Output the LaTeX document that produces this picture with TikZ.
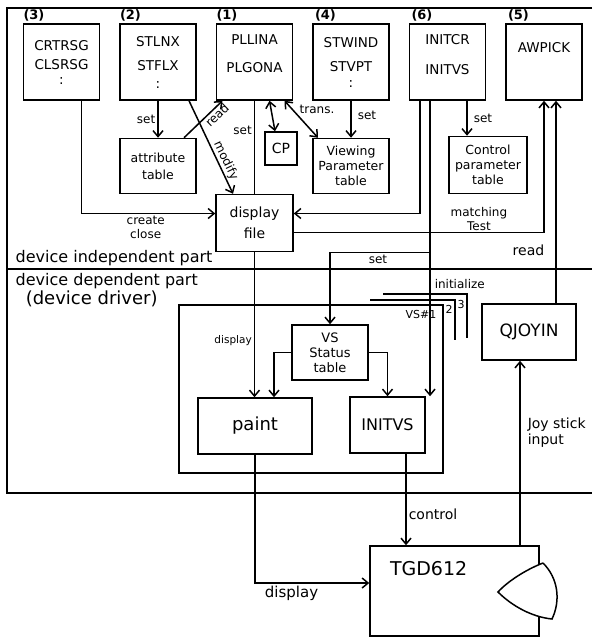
\documentclass[tikz,border=0pt]{standalone}
\usepackage{fontspec}
\setmainfont{DejaVu Sans}
\usepackage{tikz}
\usetikzlibrary{positioning,arrows.meta}

\begin{document}
\begin{tikzpicture}[
  x=1pt, y=-1pt,
  node distance=37pt and 19pt,
  line width=1.5pt,
  fnbox/.style={draw, rectangle, minimum width=76pt, minimum height=76pt, align=center, inner sep=0pt, font=\fontsize{13.5}{16}\selectfont},
  tblbox/.style={draw, rectangle, minimum width=76pt, minimum height=55pt, align=center, inner sep=0pt, font=\fontsize{12.5}{15}\selectfont},
  drvbox/.style={draw, rectangle, minimum height=56pt, align=center, font=\fontsize{16}{19}\selectfont},
  num/.style={inner sep=0pt, font=\fontsize{13}{15}\selectfont\bfseries},
  lbl/.style={inner sep=2pt, align=center, font=\fontsize{12}{14}\selectfont},
  sect/.style={inner sep=0pt, anchor=west, font=\fontsize{16}{18}\selectfont},
  arr/.style={-{Straight Barb[length=6pt,width=10pt]}},
  darr/.style={{Straight Barb[length=6pt,width=10pt]}-{Straight Barb[length=6pt,width=10pt]}}
]
  \useasboundingbox (0,0) rectangle (592,637);

  % Frame
  \draw (592,8) -- (7,8) -- (7,493) -- (592,493);
  \draw (7,269) -- (592,269);
  \node[sect] (indep) at (15,258) {device independent part};
  \node[sect] (dep) at (15,281) {device dependent part};
  \node[sect, font=\fontsize{18}{20}\selectfont] (drvname) at (25,299) {(device driver)};

  % Nodes
  \node[fnbox] (crtrsg) at (61.5,62) {CRTRSG\\[3pt]CLSRSG\\[-1pt]:};
  \node[fnbox, right=of crtrsg] (stlnx) {STLNX\\[8pt]STFLX\\[2pt]:};
  \node[fnbox, right=of stlnx] (pllina) {PLLINA\\[12pt]PLGONA\\[0pt]\mbox{}};
  \node[fnbox, right=of pllina] (stwind) {STWIND\\[8pt]STVPT\\[0pt]:};
  \node[fnbox, right=of stwind] (initcr) {INITCR\\[14pt]INITVS\\[0pt]\mbox{}};
  \node[fnbox, right=of initcr, text depth=30pt] (awpick) {AWPICK};

  \node[num, above right=1pt and 0pt of crtrsg.north west] (n3) {(3)};
  \node[num, above right=1pt and 0pt of stlnx.north west] (n2) {(2)};
  \node[num, above right=1pt and 0pt of pllina.north west] (n1) {(1)};
  \node[num, above right=1pt and 2pt of stwind.north west] (n4) {(4)};
  \node[num, above right=1pt and 2pt of initcr.north west] (n6) {(6)};
  \node[num, above right=1pt and 2pt of awpick.north west] (n5) {(5)};

  \node[tblbox, below=of stlnx] (attr) {attribute\\[2pt]table};
  \node[tblbox, minimum width=32pt, minimum height=33pt, font=\fontsize{14}{16}\selectfont] (cp) at (281,148.5) {CP};
  \node[tblbox, below=of stwind] (viewing) {Viewing\\Parameter\\table};
  \node[tblbox, below=35pt of initcr, xshift=40.5pt, minimum width=78pt, minimum height=57pt] (ctrl) {Control\\parameter\\table};
  \node[tblbox, below=93pt of pllina, minimum width=77pt, minimum height=57pt, font=\fontsize{14}{17}\selectfont] (dfile) {display\\[4pt]file};

  % device driver
  \draw (383,294) -- (467,294) -- (467,338);
  \draw (370,300) -- (455,300) -- (455,340);
  \node[draw, minimum width=264pt, minimum height=168pt] (driver) at (311,389) {};
  \node[lbl, font=\fontsize{11}{12}\selectfont] (vs1) at (421,314) {VS\#1};
  \node[lbl, font=\fontsize{11}{12}\selectfont] (vs2) at (449,309) {2};
  \node[lbl, font=\fontsize{11}{12}\selectfont] (vs3) at (461,304) {3};

  \node[tblbox, font=\fontsize{13}{15}\selectfont] (vstab) at (330,352.5) {VS\\Status\\table};
  \node[drvbox, minimum width=114pt, font=\fontsize{18}{20}\selectfont] (paint) at (255,426) {paint};
  \node[drvbox, minimum width=75pt] (initvs) at (387.5,425) {INITVS};
  \node[drvbox, minimum width=94pt, font=\fontsize{17}{19}\selectfont] (qjoyin) at (529,332) {QJOYIN};

  \node[draw, minimum width=169pt, minimum height=90pt] (tgd) at (454.5,591) {};
  \node[inner sep=0pt, font=\fontsize{19}{21}\selectfont, below right=15pt and 20pt of tgd.north west] (tgdname) {TGD612};
  \draw[fill=white] (543,563) .. controls (525,570) and (507,582) .. (498,592)
    .. controls (512,606) and (532,617) .. (552,619)
    .. controls (561,600) and (558,578) .. (543,563);

  % Arrows
  \draw[arr] ([xshift=20pt]crtrsg.south) |- ([yshift=9.5pt]dfile.west) node[lbl, below, pos=0.74] {create\\close};
  \draw[arr] (stlnx) -- (attr) node[lbl, left, pos=0.5] {set};
  \draw[arr] ([xshift=26pt]attr.north) -- ([xshift=-32pt]pllina.south) node[lbl, sloped, below, pos=0.74, inner sep=1pt] {read};
  \draw[arr] ([xshift=31pt]stlnx.south) -- ([xshift=-21.5pt]dfile.north) node[lbl, sloped, above, pos=0.68, inner sep=1pt] {modify};
  \draw (pllina) -- (dfile) node[lbl, left, pos=0.32] {set};
  \draw[darr] ([xshift=15pt]pllina.south) -- ([xshift=-6pt]cp.north);
  \draw[darr] ([xshift=30pt]pllina.south) -- ([xshift=-33pt]viewing.north) node[lbl, pos=0.4, anchor=south west, inner sep=1pt] {trans.};
  \draw[arr] (stwind.south) -- (stwind.south |- viewing.north) node[lbl, right=4pt, pos=0.4] {set};
  \draw[arr] ([xshift=19.5pt]initcr.south) -- ([xshift=19.5pt]initcr.south |- ctrl.north) node[lbl, right=4pt, pos=0.5] {set};
  \draw[arr] ([xshift=-27.5pt]initcr.south) |- ([yshift=9.5pt]dfile.east);
  \draw[arr] ([xshift=-17.5pt]initcr.south) -- ([xshift=-17.5pt]initcr.south |- initvs.north) node[lbl, right=2pt, pos=0.62] {initialize};
  \coordinate (setfork) at ([xshift=-17.5pt]initcr.south |- dfile.south);
  \draw[arr] (setfork) -| (vstab.north) node[lbl, below, pos=0.26] {set};
  \draw[arr] ([yshift=-9.5pt]dfile.east) -| (awpick.south) node[lbl, above, pos=0.37, inner sep=1pt] {matching\\Test};
  \draw[arr] ([xshift=27pt]qjoyin.north) -- ([xshift=27pt]qjoyin.north |- awpick.south) node[lbl, left=9pt, pos=0.26, font=\fontsize{14}{16}\selectfont] {read};
  \draw[arr] (dfile.south) -- (dfile.south |- paint.north) node[lbl, left, pos=0.61, font=\fontsize{10.5}{12}\selectfont] {display};
  \draw[arr] (vstab.west) -| ([xshift=19pt]paint.north);
  \draw[arr] (vstab.east) -| (initvs.north);
  \draw[arr] (paint.south) |- ([yshift=8pt]tgd.west) node[lbl, below, pos=0.66, font=\fontsize{15}{17}\selectfont] {display};
  \draw[arr] ([xshift=18.5pt]initvs.south) -- ([xshift=18.5pt]initvs.south |- tgd.north) node[lbl, right, pos=0.66, font=\fontsize{14}{16}\selectfont] {control};
  \draw[arr] ([xshift=65.5pt]tgd.north) -- ([xshift=65.5pt]tgd.north |- qjoyin.south) node[lbl, right=5pt, pos=0.61, align=left, font=\fontsize{14}{16}\selectfont] {Joy stick\\input};
\end{tikzpicture}
\end{document}
